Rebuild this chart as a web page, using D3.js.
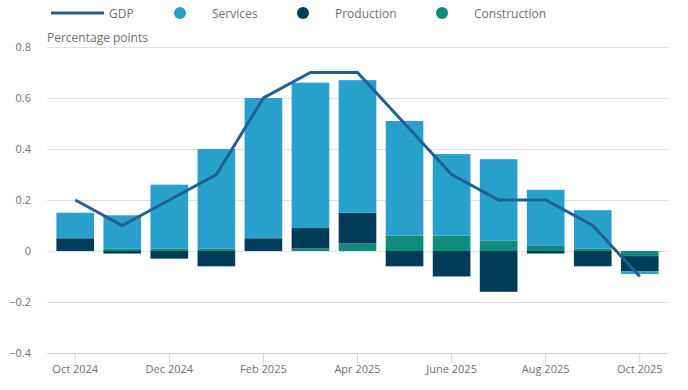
<!DOCTYPE html>
<html>
<head>
  <meta charset="utf-8">
  <title>GDP contributions</title>
  <script src="https://d3js.org/d3.v7.min.js"></script>
  <style>
    body { margin: 0; background: #fff; font-family: "Open Sans", sans-serif; }
    text { fill: #707070; }
  </style>
</head>
<body>
  <script>
    const months = ["Oct 2024", "Nov 2024", "Dec 2024", "Jan 2025", "Feb 2025", "Mar 2025", "Apr 2025",
                    "May 2025", "June 2025", "Jul 2025", "Aug 2025", "Sep 2025", "Oct 2025"];
    const gdp          = [0.2, 0.1, 0.2, 0.3, 0.6, 0.7, 0.7, 0.5, 0.3, 0.2, 0.2, 0.1, -0.1];
    const services     = [0.10, 0.13, 0.25, 0.39, 0.55, 0.57, 0.52, 0.45, 0.32, 0.32, 0.22, 0.15, -0.01];
    const production   = [0.05, -0.01, -0.03, -0.06, 0.05, 0.08, 0.12, -0.06, -0.10, -0.16, -0.01, -0.06, -0.06];
    const construction = [0, 0.01, 0.01, 0.01, 0, 0.01, 0.03, 0.06, 0.06, 0.04, 0.02, 0.01, -0.02];
    const yTicks = [-0.4, -0.2, 0, 0.2, 0.4, 0.6, 0.8];
    const xTickLabels = ["Oct 2024", "Dec 2024", "Feb 2025", "Apr 2025", "June 2025", "Aug 2025", "Oct 2025"];

    const width = 688, height = 390;
    const plotLeft = 47, plotRight = 668, plotTop = 47, plotBottom = 353;

    // stacking order outward from zero: construction, production, services
    const series = [
      { name: "Construction", values: construction, color: "#118c7b" },
      { name: "Production", values: production, color: "#003c57" },
      { name: "Services", values: services, color: "#27a0cc" }
    ];

    const x = d3.scaleBand().domain(months).range([plotLeft, plotRight]).padding(0.2);
    const y = d3.scaleLinear().domain([-0.4, 0.8]).range([plotBottom, plotTop]);

    const svg = d3.select("body").append("svg")
      .attr("width", width)
      .attr("height", height);

    // gridlines
    svg.append("g")
      .selectAll("line")
      .data(yTicks.filter(d => d !== -0.4))
      .join("line")
      .attr("x1", plotLeft).attr("x2", plotRight)
      .attr("y1", d => Math.round(y(d)) + 0.5).attr("y2", d => Math.round(y(d)) + 0.5)
      .attr("stroke", "#e0e0e0");

    // y tick labels
    svg.append("g")
      .selectAll("text")
      .data(yTicks)
      .join("text")
      .attr("x", 31)
      .attr("y", d => y(d) + 4)
      .attr("text-anchor", "end")
      .style("font-size", "11px")
      .text(d => d3.format("")(d));

    svg.append("text")
      .attr("x", plotLeft)
      .attr("y", 42)
      .style("font-size", "12px")
      .text("Percentage points");

    // stacked bars, positive and negative stacked separately
    months.forEach((m, i) => {
      let pos = 0, neg = 0;
      series.forEach(s => {
        const v = s.values[i];
        if (v === 0) return;
        let y0, y1;
        if (v > 0) { y0 = pos; y1 = pos + v; pos = y1; }
        else { y0 = neg; y1 = neg + v; neg = y1; }
        svg.append("rect")
          .attr("x", x(m))
          .attr("width", x.bandwidth())
          .attr("y", y(Math.max(y0, y1)))
          .attr("height", Math.abs(y(y0) - y(y1)))
          .attr("fill", s.color);
      });
    });

    // x axis
    const xAxis = svg.append("g")
      .attr("transform", "translate(0," + (plotBottom + 0.5) + ")")
      .call(d3.axisBottom(x).tickValues(months.filter((d, i) => i % 2 === 0))
        .tickFormat((d, i) => xTickLabels[i]).tickSize(10).tickSizeOuter(0).tickPadding(2));
    xAxis.select(".domain").attr("stroke", "#ccd6eb").attr("d", "M" + plotLeft + ",0H" + plotRight);
    xAxis.selectAll(".tick line").attr("stroke", "#ccd6eb");
    xAxis.selectAll(".tick text")
      .style("font-size", "11px")
      .style("font-family", "Open Sans, sans-serif")
      .attr("fill", "#707070");

    // GDP line
    const line = d3.line()
      .x((d, i) => x(months[i]) + x.bandwidth() / 2)
      .y(d => y(d));
    svg.append("path")
      .datum(gdp)
      .attr("d", line)
      .attr("fill", "none")
      .attr("stroke", "#206095")
      .attr("stroke-width", 3);

    // legend
    const legend = svg.append("g");
    legend.append("line")
      .attr("x1", 51).attr("x2", 104).attr("y1", 13).attr("y2", 13)
      .attr("stroke", "#206095").attr("stroke-width", 3);
    legend.append("text").attr("x", 109).attr("y", 17.5).style("font-size", "12px").text("GDP");
    const legendItems = [
      { name: "Services", color: "#27a0cc", cx: 180, tx: 212 },
      { name: "Production", color: "#003c57", cx: 303, tx: 335 },
      { name: "Construction", color: "#118c7b", cx: 442, tx: 474 }
    ];
    legendItems.forEach(d => {
      legend.append("circle").attr("cx", d.cx).attr("cy", 13).attr("r", 6).attr("fill", d.color);
      legend.append("text").attr("x", d.tx).attr("y", 17.5).style("font-size", "12px").text(d.name);
    });
  </script>
</body>
</html>
